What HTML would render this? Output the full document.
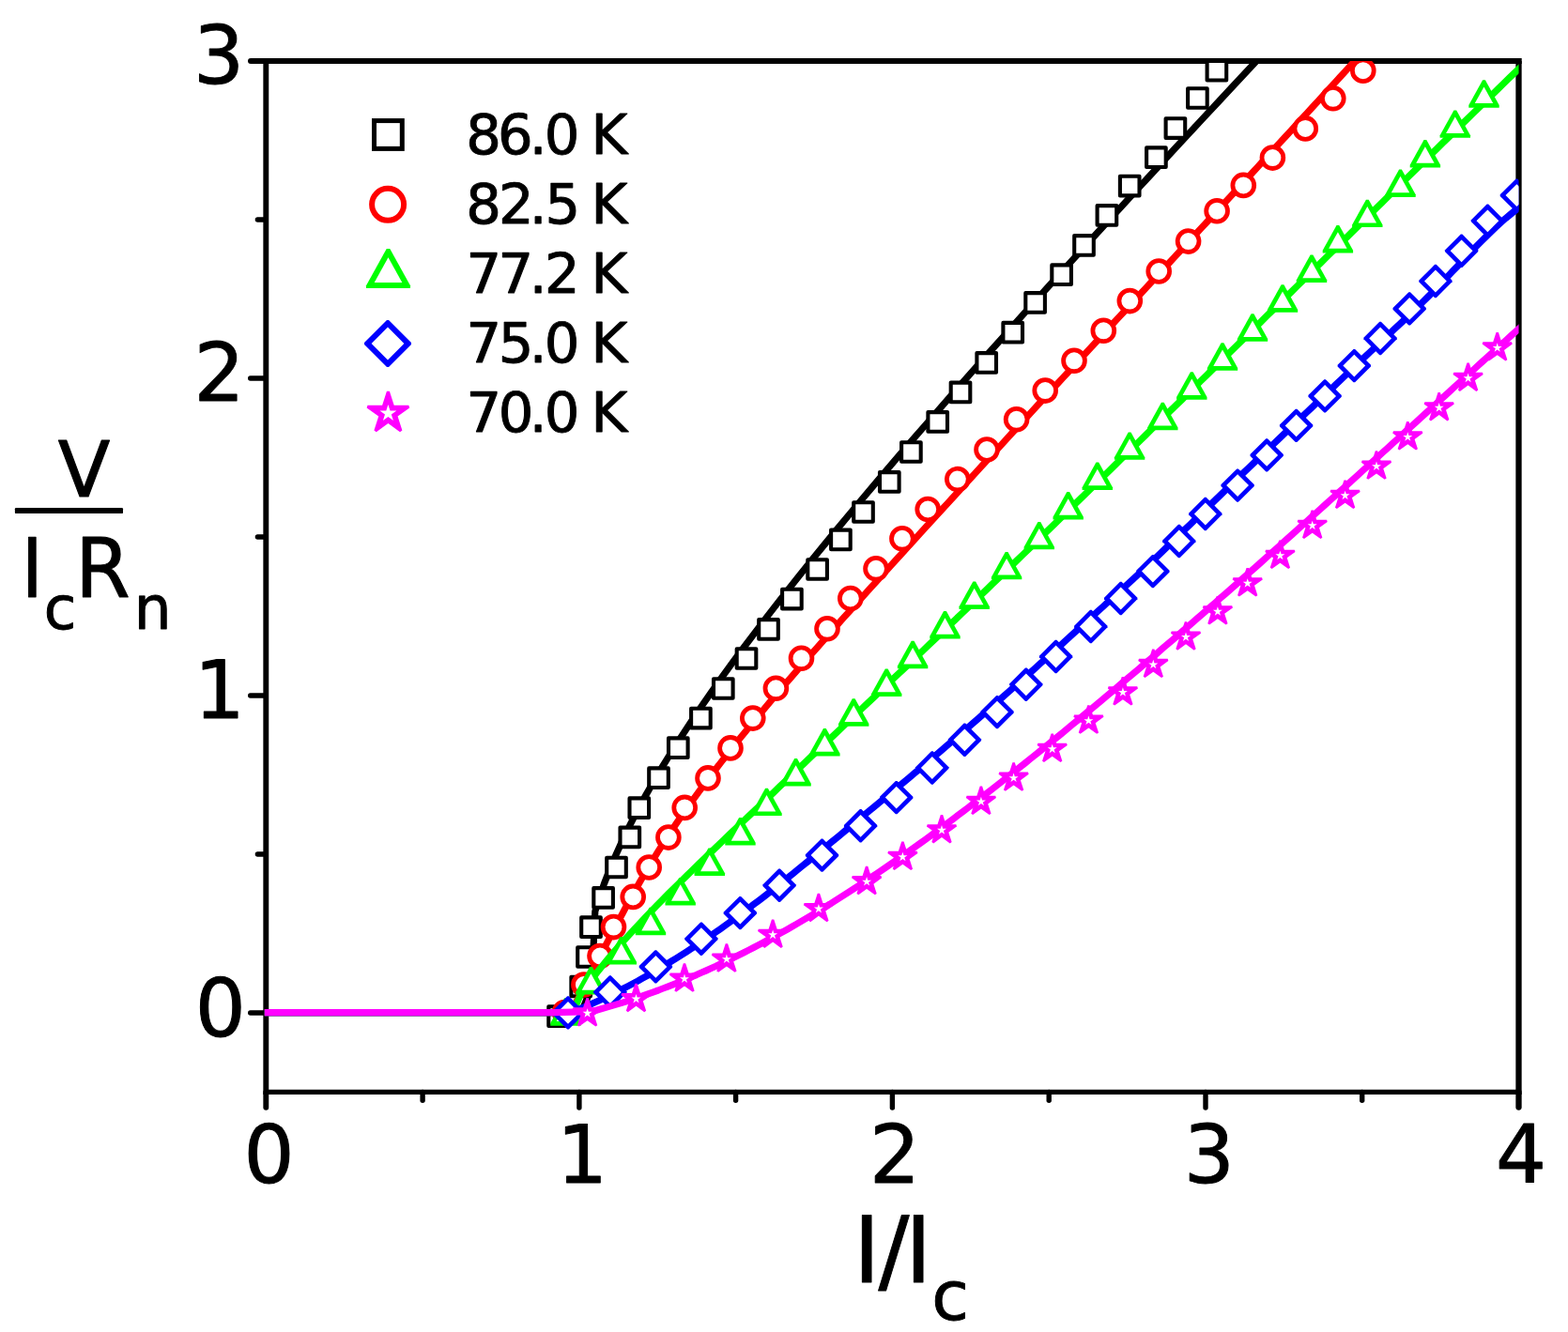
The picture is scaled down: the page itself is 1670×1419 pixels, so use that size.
<!DOCTYPE html>
<html lang="en"><head><meta charset="utf-8"><title>V/IcRn vs I/Ic</title>
<style>html,body{margin:0;padding:0;background:#fff}body{width:1670px;height:1419px;overflow:hidden}svg{display:block}text{font-family:'DejaVu Sans Condensed','DejaVu Sans','Liberation Sans',sans-serif;fill:#000}</style></head><body>
<svg width="1670" height="1419" viewBox="0 0 1670 1419">
<rect width="1670" height="1419" fill="#fff"/>
<g stroke="#000" fill="none" stroke-linecap="round">
<line x1="280.3" y1="65" x2="1620.7" y2="65" stroke-width="6.0" stroke-linecap="butt"/>
<line x1="283.3" y1="65" x2="283.3" y2="1166" stroke-width="5.9" stroke-linecap="butt"/>
<line x1="1617.5" y1="65" x2="1617.5" y2="1166" stroke-width="6.3" stroke-linecap="butt"/>
<line x1="283.3" y1="1163.4" x2="1617.5" y2="1163.4" stroke-width="5.1" stroke-linecap="butt"/>
<line x1="283.3" y1="1163.4" x2="283.3" y2="1179.8" stroke-width="5.9"/>
<line x1="450.1" y1="1163.4" x2="450.1" y2="1172.3" stroke-width="5.4"/>
<line x1="616.9" y1="1163.4" x2="616.9" y2="1180" stroke-width="5.4"/>
<line x1="783.6" y1="1163.4" x2="783.6" y2="1172.3" stroke-width="5.4"/>
<line x1="950.4" y1="1163.4" x2="950.4" y2="1180" stroke-width="5.4"/>
<line x1="1117.2" y1="1163.4" x2="1117.2" y2="1172.3" stroke-width="5.4"/>
<line x1="1284" y1="1163.4" x2="1284" y2="1180" stroke-width="5.4"/>
<line x1="1450.7" y1="1163.4" x2="1450.7" y2="1172.3" stroke-width="5.4"/>
<line x1="1617.5" y1="1163.4" x2="1617.5" y2="1179.5" stroke-width="6.3"/>
<line x1="283.3" y1="1079" x2="266.7" y2="1079" stroke-width="5.4"/>
<line x1="283.3" y1="910" x2="274.4" y2="910" stroke-width="5.4"/>
<line x1="283.3" y1="741" x2="266.7" y2="741" stroke-width="5.4"/>
<line x1="283.3" y1="572" x2="274.4" y2="572" stroke-width="5.4"/>
<line x1="283.3" y1="403" x2="266.7" y2="403" stroke-width="5.4"/>
<line x1="283.3" y1="234" x2="274.4" y2="234" stroke-width="5.4"/>
<line x1="283.3" y1="65" x2="267" y2="65" stroke-width="6.0"/>
</g>
<defs><clipPath id="cp"><rect x="281.8" y="65" width="1335.7" height="1098.4"/></clipPath></defs>
<g clip-path="url(#cp)">
<path d="M1369.9 31.2L1355.2 46.9L1340.5 62.6L1325.8 78.3L1311.1 94L1296.5 109.7L1281.9 125.4L1267.3 141.1L1252.7 156.8L1238.2 172.5L1223.7 188.2L1209.2 203.9L1194.8 219.6L1180.4 235.3L1166 251L1151.7 266.7L1137.4 282.4L1123.2 298L1109 313.7L1094.8 329.4L1080.7 345.1L1066.7 360.8L1052.7 376.5L1038.8 392.2L1024.9 407.9L1011.1 423.6L997.4 439.3L983.7 455L970.1 470.7L956.6 486.4L943.2 502.1L929.9 517.8L916.7 533.5L903.6 549.2L890.6 564.9L877.7 580.6L864.9 596.3L852.3 612L839.8 627.7L827.5 643.4L815.3 659.1L803.4 674.8L791.6 690.5L780 706.2L768.6 721.9L757.5 737.6L746.6 753.3L736 769L725.7 784.7L715.6 800.4L706 816L696.6 831.7L687.7 847.4L679.1 863.1L671 878.8L663.3 894.5L656.2 910.2L649.5 925.9L643.4 941.6L637.9 957.3L633.8 971L632.3 1003.7L630.5 1035L626 1062L619 1078.7L278.3 1078.7" fill="none" stroke="#000000" stroke-width="7.2" stroke-linejoin="round"/>
<rect x="584.3" y="1072.3" width="20.6" height="20.6" fill="#fff" stroke="#000000" stroke-width="4.1" stroke-linejoin="round"/>
<rect x="608.4" y="1040.7" width="20.6" height="20.6" fill="#fff" stroke="#000000" stroke-width="4.1" stroke-linejoin="round"/>
<rect x="615.2" y="1009.2" width="20.6" height="20.6" fill="#fff" stroke="#000000" stroke-width="4.1" stroke-linejoin="round"/>
<rect x="619.2" y="977.4" width="20.6" height="20.6" fill="#fff" stroke="#000000" stroke-width="4.1" stroke-linejoin="round"/>
<rect x="632.3" y="946.1" width="20.6" height="20.6" fill="#fff" stroke="#000000" stroke-width="4.1" stroke-linejoin="round"/>
<rect x="646.2" y="913.7" width="20.6" height="20.6" fill="#fff" stroke="#000000" stroke-width="4.1" stroke-linejoin="round"/>
<rect x="660.5" y="881.6" width="20.6" height="20.6" fill="#fff" stroke="#000000" stroke-width="4.1" stroke-linejoin="round"/>
<rect x="670.5" y="850.4" width="20.6" height="20.6" fill="#fff" stroke="#000000" stroke-width="4.1" stroke-linejoin="round"/>
<rect x="691.2" y="818.4" width="20.6" height="20.6" fill="#fff" stroke="#000000" stroke-width="4.1" stroke-linejoin="round"/>
<rect x="712" y="786.4" width="20.6" height="20.6" fill="#fff" stroke="#000000" stroke-width="4.1" stroke-linejoin="round"/>
<rect x="736.1" y="754.8" width="20.6" height="20.6" fill="#fff" stroke="#000000" stroke-width="4.1" stroke-linejoin="round"/>
<rect x="760" y="723.2" width="20.6" height="20.6" fill="#fff" stroke="#000000" stroke-width="4.1" stroke-linejoin="round"/>
<rect x="784.7" y="691.2" width="20.6" height="20.6" fill="#fff" stroke="#000000" stroke-width="4.1" stroke-linejoin="round"/>
<rect x="808.2" y="660.1" width="20.6" height="20.6" fill="#fff" stroke="#000000" stroke-width="4.1" stroke-linejoin="round"/>
<rect x="833.1" y="627.8" width="20.6" height="20.6" fill="#fff" stroke="#000000" stroke-width="4.1" stroke-linejoin="round"/>
<rect x="860.3" y="596.2" width="20.6" height="20.6" fill="#fff" stroke="#000000" stroke-width="4.1" stroke-linejoin="round"/>
<rect x="885.1" y="564.6" width="20.6" height="20.6" fill="#fff" stroke="#000000" stroke-width="4.1" stroke-linejoin="round"/>
<rect x="909.2" y="535.2" width="20.6" height="20.6" fill="#fff" stroke="#000000" stroke-width="4.1" stroke-linejoin="round"/>
<rect x="937" y="503.1" width="20.6" height="20.6" fill="#fff" stroke="#000000" stroke-width="4.1" stroke-linejoin="round"/>
<rect x="960.1" y="471.2" width="20.6" height="20.6" fill="#fff" stroke="#000000" stroke-width="4.1" stroke-linejoin="round"/>
<rect x="988.4" y="439.1" width="20.6" height="20.6" fill="#fff" stroke="#000000" stroke-width="4.1" stroke-linejoin="round"/>
<rect x="1012.7" y="407.6" width="20.6" height="20.6" fill="#fff" stroke="#000000" stroke-width="4.1" stroke-linejoin="round"/>
<rect x="1040.4" y="376.1" width="20.6" height="20.6" fill="#fff" stroke="#000000" stroke-width="4.1" stroke-linejoin="round"/>
<rect x="1068.4" y="343.9" width="20.6" height="20.6" fill="#fff" stroke="#000000" stroke-width="4.1" stroke-linejoin="round"/>
<rect x="1092.3" y="312.1" width="20.6" height="20.6" fill="#fff" stroke="#000000" stroke-width="4.1" stroke-linejoin="round"/>
<rect x="1120.3" y="282.4" width="20.6" height="20.6" fill="#fff" stroke="#000000" stroke-width="4.1" stroke-linejoin="round"/>
<rect x="1144.2" y="251.1" width="20.6" height="20.6" fill="#fff" stroke="#000000" stroke-width="4.1" stroke-linejoin="round"/>
<rect x="1168.6" y="219.1" width="20.6" height="20.6" fill="#fff" stroke="#000000" stroke-width="4.1" stroke-linejoin="round"/>
<rect x="1192.9" y="187.8" width="20.6" height="20.6" fill="#fff" stroke="#000000" stroke-width="4.1" stroke-linejoin="round"/>
<rect x="1221.1" y="157.4" width="20.6" height="20.6" fill="#fff" stroke="#000000" stroke-width="4.1" stroke-linejoin="round"/>
<rect x="1241.6" y="126.3" width="20.6" height="20.6" fill="#fff" stroke="#000000" stroke-width="4.1" stroke-linejoin="round"/>
<rect x="1265.1" y="94.2" width="20.6" height="20.6" fill="#fff" stroke="#000000" stroke-width="4.1" stroke-linejoin="round"/>
<rect x="1285.6" y="64.9" width="20.6" height="20.6" fill="#fff" stroke="#000000" stroke-width="4.1" stroke-linejoin="round"/>
<path d="M1456.5 50L1450.7 56.4L1444.8 62.8L1439 69.2L1433.2 75.6L1427.3 82L1421.5 88.4L1415.6 94.8L1409.8 101.2L1403.9 107.6L1398 114L1392.2 120.4L1386.3 126.8L1380.4 133.2L1374.6 139.6L1368.7 146L1362.8 152.4L1356.9 158.8L1351 165.2L1345.1 171.6L1339.3 178.1L1333.4 184.5L1327.5 190.9L1321.6 197.3L1315.7 203.7L1309.8 210.1L1303.9 216.5L1298 222.9L1292.1 229.3L1286.2 235.7L1280.2 242.1L1274.3 248.5L1268.4 254.9L1262.5 261.3L1256.6 267.7L1250.7 274.1L1244.8 280.5L1238.9 286.9L1232.9 293.3L1227 299.7L1221.1 306.1L1215.2 312.5L1209.3 318.9L1203.4 325.3L1197.5 331.7L1191.5 338.1L1185.6 344.5L1179.7 350.9L1173.8 357.3L1167.9 363.7L1162 370.1L1156.1 376.5L1150.2 382.9L1144.2 389.3L1138.3 395.7L1132.4 402.1L1126.5 408.5L1120.6 414.9L1114.7 421.3L1108.8 427.7L1102.9 434.2L1097 440.6L1091.1 447L1085.2 453.4L1079.3 459.8L1073.5 466.2L1067.6 472.6L1061.7 479L1055.8 485.4L1049.9 491.8L1044.1 498.2L1038.2 504.6L1032.3 511L1026.4 517.4L1020.6 523.8L1014.7 530.2L1008.9 536.6L1003 543L997.2 549.4L991.3 555.8L985.5 562.2L979.6 568.6L973.8 575L968 581.4L962.2 587.8L956.3 594.2L950.5 600.6L944.7 607L938.9 613.4L933.1 619.8L927.3 626.2L921.5 632.6L915.7 639L910 645.4L904.2 651.8L898.4 658.2L892.7 664.6L887 671L881.3 677.4L875.6 683.8L869.9 690.3L864.3 696.7L858.6 703.1L853 709.5L847.5 715.9L841.9 722.3L836.4 728.7L830.9 735.1L825.5 741.5L820 747.9L814.7 754.3L809.3 760.7L804 767.1L798.7 773.5L793.5 779.9L788.3 786.3L783.2 792.7L778.1 799.1L773.1 805.5L768.1 811.9L763.2 818.3L758.3 824.7L753.4 831.1L748.7 837.5L744 843.9L739.3 850.3L734.7 856.7L730.2 863.1L725.7 869.5L721.3 875.9L717 882.3L712.8 888.7L708.6 895.1L704.5 901.5L700.4 907.9L696.5 914.3L692.6 920.7L688.7 927.1L685 933.5L681.3 939.9L677.7 946.4L674.1 952.8L670.5 959.2L667 965.6L663.6 972L660.2 978.4L656.8 984.8L653.4 991.2L650.1 997.6L646.7 1004L643.4 1010.4L640.1 1016.8L636.8 1023.2L633.5 1029.6L630.2 1036L626.9 1042.4L623.6 1048.8L620.3 1055.2L616.9 1061.6L613.5 1068L604 1078.7L278.3 1078.7" fill="none" stroke="#ff0000" stroke-width="7.2" stroke-linejoin="round"/>
<circle cx="601.5" cy="1078.6" r="11.4" fill="#fff" stroke="#ff0000" stroke-width="4.8"/>
<circle cx="621.9" cy="1049" r="11.4" fill="#fff" stroke="#ff0000" stroke-width="4.8"/>
<circle cx="639" cy="1018.5" r="11.4" fill="#fff" stroke="#ff0000" stroke-width="4.8"/>
<circle cx="653.5" cy="987.6" r="11.4" fill="#fff" stroke="#ff0000" stroke-width="4.8"/>
<circle cx="674.2" cy="955.4" r="11.4" fill="#fff" stroke="#ff0000" stroke-width="4.8"/>
<circle cx="691.2" cy="924" r="11.4" fill="#fff" stroke="#ff0000" stroke-width="4.8"/>
<circle cx="711.9" cy="892.1" r="11.4" fill="#fff" stroke="#ff0000" stroke-width="4.8"/>
<circle cx="729.2" cy="860.4" r="11.4" fill="#fff" stroke="#ff0000" stroke-width="4.8"/>
<circle cx="754" cy="828.9" r="11.4" fill="#fff" stroke="#ff0000" stroke-width="4.8"/>
<circle cx="778" cy="796.9" r="11.4" fill="#fff" stroke="#ff0000" stroke-width="4.8"/>
<circle cx="801.8" cy="765.1" r="11.4" fill="#fff" stroke="#ff0000" stroke-width="4.8"/>
<circle cx="826.4" cy="733.3" r="11.4" fill="#fff" stroke="#ff0000" stroke-width="4.8"/>
<circle cx="853.5" cy="701.3" r="11.4" fill="#fff" stroke="#ff0000" stroke-width="4.8"/>
<circle cx="881" cy="669.8" r="11.4" fill="#fff" stroke="#ff0000" stroke-width="4.8"/>
<circle cx="905.8" cy="637.5" r="11.4" fill="#fff" stroke="#ff0000" stroke-width="4.8"/>
<circle cx="933" cy="605.8" r="11.4" fill="#fff" stroke="#ff0000" stroke-width="4.8"/>
<circle cx="960.9" cy="573.8" r="11.4" fill="#fff" stroke="#ff0000" stroke-width="4.8"/>
<circle cx="988.2" cy="542.5" r="11.4" fill="#fff" stroke="#ff0000" stroke-width="4.8"/>
<circle cx="1019.8" cy="510.6" r="11.4" fill="#fff" stroke="#ff0000" stroke-width="4.8"/>
<circle cx="1051" cy="479" r="11.4" fill="#fff" stroke="#ff0000" stroke-width="4.8"/>
<circle cx="1082.6" cy="446.8" r="11.4" fill="#fff" stroke="#ff0000" stroke-width="4.8"/>
<circle cx="1113.2" cy="416.1" r="11.4" fill="#fff" stroke="#ff0000" stroke-width="4.8"/>
<circle cx="1144" cy="384.3" r="11.4" fill="#fff" stroke="#ff0000" stroke-width="4.8"/>
<circle cx="1175.3" cy="352.3" r="11.4" fill="#fff" stroke="#ff0000" stroke-width="4.8"/>
<circle cx="1203.3" cy="320.6" r="11.4" fill="#fff" stroke="#ff0000" stroke-width="4.8"/>
<circle cx="1234.2" cy="289" r="11.4" fill="#fff" stroke="#ff0000" stroke-width="4.8"/>
<circle cx="1265.6" cy="257.1" r="11.4" fill="#fff" stroke="#ff0000" stroke-width="4.8"/>
<circle cx="1296.1" cy="224.7" r="11.4" fill="#fff" stroke="#ff0000" stroke-width="4.8"/>
<circle cx="1324.3" cy="197.4" r="11.4" fill="#fff" stroke="#ff0000" stroke-width="4.8"/>
<circle cx="1355.4" cy="168.1" r="11.4" fill="#fff" stroke="#ff0000" stroke-width="4.8"/>
<circle cx="1390.3" cy="136.9" r="11.4" fill="#fff" stroke="#ff0000" stroke-width="4.8"/>
<circle cx="1419.8" cy="104.8" r="11.4" fill="#fff" stroke="#ff0000" stroke-width="4.8"/>
<circle cx="1451.8" cy="75.2" r="11.4" fill="#fff" stroke="#ff0000" stroke-width="4.8"/>
<path d="M1640.3 51.2L1633.8 57.6L1627.2 63.9L1620.7 70.3L1614.2 76.6L1607.6 82.9L1601.1 89.3L1594.6 95.6L1588.1 102L1581.6 108.3L1575.1 114.7L1568.6 121L1562.1 127.4L1555.6 133.7L1549.1 140.1L1542.7 146.4L1536.2 152.7L1529.7 159.1L1523.2 165.4L1516.8 171.8L1510.3 178.1L1503.8 184.5L1497.4 190.8L1490.9 197.2L1484.4 203.5L1478 209.8L1471.5 216.2L1465.1 222.5L1458.6 228.9L1452.2 235.2L1445.7 241.6L1439.3 247.9L1432.9 254.3L1426.4 260.6L1420 266.9L1413.5 273.3L1407.1 279.6L1400.6 286L1394.2 292.3L1387.8 298.7L1381.3 305L1374.9 311.4L1368.4 317.7L1362 324L1355.6 330.4L1349.1 336.7L1342.7 343.1L1336.3 349.4L1329.8 355.8L1323.4 362.1L1316.9 368.5L1310.5 374.8L1304 381.1L1297.6 387.5L1291.1 393.8L1284.7 400.2L1278.2 406.5L1271.8 412.9L1265.3 419.2L1258.9 425.6L1252.4 431.9L1245.9 438.2L1239.5 444.6L1233 450.9L1226.5 457.3L1220.1 463.6L1213.6 470L1207.1 476.3L1200.6 482.7L1194.1 489L1187.6 495.3L1181.2 501.7L1174.7 508L1168.2 514.4L1161.7 520.7L1155.1 527.1L1148.6 533.4L1142.1 539.8L1135.6 546.1L1129.1 552.4L1122.5 558.8L1116 565.1L1109.4 571.5L1102.9 577.8L1096.4 584.2L1089.8 590.5L1083.2 596.9L1076.7 603.2L1070.1 609.5L1063.5 615.9L1056.9 622.2L1050.3 628.6L1043.7 634.9L1037.1 641.3L1030.5 647.6L1023.9 654L1017.3 660.3L1010.6 666.6L1004 673L997.4 679.3L990.7 685.7L984.1 692L977.4 698.4L970.7 704.7L964.1 711.1L957.4 717.4L950.7 723.7L944 730.1L937.4 736.4L930.7 742.8L924 749.1L917.3 755.5L910.6 761.8L903.9 768.2L897.3 774.5L890.6 780.8L883.9 787.2L877.2 793.5L870.5 799.9L863.8 806.2L857.1 812.6L850.5 818.9L843.8 825.3L837.1 831.6L830.4 837.9L823.8 844.3L817.1 850.6L810.5 857L803.8 863.3L797.2 869.7L790.5 876L783.9 882.4L777.2 888.7L770.6 895L764 901.4L757.4 907.7L750.8 914.1L744.2 920.4L737.7 926.8L731.2 933.1L724.7 939.5L718.3 945.8L711.9 952.1L705.6 958.5L699.4 964.8L693.2 971.2L687.2 977.5L681.2 983.9L675.3 990.2L669.4 996.6L663.7 1002.9L658.1 1009.2L652.6 1015.6L647.3 1021.9L642.1 1028.3L637 1034.6L632 1041L627.2 1047.3L622.5 1053.7L618.1 1060L610 1078.7L278.3 1078.7" fill="none" stroke="#00ff00" stroke-width="7.2" stroke-linejoin="round"/>
<path d="M601.02 1063.3L603.78 1063.3L618.6 1090.03L618.6 1092.7L586.2 1092.7L586.2 1090.03Z" fill="#00ff00"/><path d="M602.4 1070.5L612.1 1088L592.7 1088Z" fill="#fff"/>
<path d="M628.02 1030.1L630.78 1030.1L645.6 1056.83L645.6 1059.5L613.2 1059.5L613.2 1056.83Z" fill="#00ff00"/><path d="M629.4 1037.3L639.1 1054.8L619.7 1054.8Z" fill="#fff"/>
<path d="M660.42 998.1L663.18 998.1L678 1024.83L678 1027.5L645.6 1027.5L645.6 1024.83Z" fill="#00ff00"/><path d="M661.8 1005.3L671.5 1022.8L652.1 1022.8Z" fill="#fff"/>
<path d="M691.62 966.8L694.38 966.8L709.2 993.53L709.2 996.2L676.8 996.2L676.8 993.53Z" fill="#00ff00"/><path d="M693 974L702.7 991.5L683.3 991.5Z" fill="#fff"/>
<path d="M723.32 935L726.08 935L740.9 961.73L740.9 964.4L708.5 964.4L708.5 961.73Z" fill="#00ff00"/><path d="M724.7 942.2L734.4 959.7L715 959.7Z" fill="#fff"/>
<path d="M754.42 903.5L757.18 903.5L772 930.23L772 932.9L739.6 932.9L739.6 930.23Z" fill="#00ff00"/><path d="M755.8 910.7L765.5 928.2L746.1 928.2Z" fill="#fff"/>
<path d="M787.12 871.1L789.88 871.1L804.7 897.83L804.7 900.5L772.3 900.5L772.3 897.83Z" fill="#00ff00"/><path d="M788.5 878.3L798.2 895.8L778.8 895.8Z" fill="#fff"/>
<path d="M815.12 839.7L817.88 839.7L832.7 866.43L832.7 869.1L800.3 869.1L800.3 866.43Z" fill="#00ff00"/><path d="M816.5 846.9L826.2 864.4L806.8 864.4Z" fill="#fff"/>
<path d="M846.22 808.1L848.98 808.1L863.8 834.83L863.8 837.5L831.4 837.5L831.4 834.83Z" fill="#00ff00"/><path d="M847.6 815.3L857.3 832.8L837.9 832.8Z" fill="#fff"/>
<path d="M877.02 776.1L879.78 776.1L894.6 802.83L894.6 805.5L862.2 805.5L862.2 802.83Z" fill="#00ff00"/><path d="M878.4 783.3L888.1 800.8L868.7 800.8Z" fill="#fff"/>
<path d="M907.82 744.3L910.58 744.3L925.4 771.03L925.4 773.7L893 773.7L893 771.03Z" fill="#00ff00"/><path d="M909.2 751.5L918.9 769L899.5 769Z" fill="#fff"/>
<path d="M942.82 712.5L945.58 712.5L960.4 739.23L960.4 741.9L928 741.9L928 739.23Z" fill="#00ff00"/><path d="M944.2 719.7L953.9 737.2L934.5 737.2Z" fill="#fff"/>
<path d="M970.72 682.8L973.48 682.8L988.3 709.53L988.3 712.2L955.9 712.2L955.9 709.53Z" fill="#00ff00"/><path d="M972.1 690L981.8 707.5L962.4 707.5Z" fill="#fff"/>
<path d="M1005.12 651.1L1007.88 651.1L1022.7 677.83L1022.7 680.5L990.3 680.5L990.3 677.83Z" fill="#00ff00"/><path d="M1006.5 658.3L1016.2 675.8L996.8 675.8Z" fill="#fff"/>
<path d="M1036.32 619.5L1039.08 619.5L1053.9 646.23L1053.9 648.9L1021.5 648.9L1021.5 646.23Z" fill="#00ff00"/><path d="M1037.7 626.7L1047.4 644.2L1028 644.2Z" fill="#fff"/>
<path d="M1070.72 587.9L1073.48 587.9L1088.3 614.63L1088.3 617.3L1055.9 617.3L1055.9 614.63Z" fill="#00ff00"/><path d="M1072.1 595.1L1081.8 612.6L1062.4 612.6Z" fill="#fff"/>
<path d="M1105.42 555.9L1108.18 555.9L1123 582.63L1123 585.3L1090.6 585.3L1090.6 582.63Z" fill="#00ff00"/><path d="M1106.8 563.1L1116.5 580.6L1097.1 580.6Z" fill="#fff"/>
<path d="M1136.32 524.1L1139.08 524.1L1153.9 550.83L1153.9 553.5L1121.5 553.5L1121.5 550.83Z" fill="#00ff00"/><path d="M1137.7 531.3L1147.4 548.8L1128 548.8Z" fill="#fff"/>
<path d="M1167.42 492.5L1170.18 492.5L1185 519.23L1185 521.9L1152.6 521.9L1152.6 519.23Z" fill="#00ff00"/><path d="M1168.8 499.7L1178.5 517.2L1159.1 517.2Z" fill="#fff"/>
<path d="M1201.72 460.4L1204.48 460.4L1219.3 487.13L1219.3 489.8L1186.9 489.8L1186.9 487.13Z" fill="#00ff00"/><path d="M1203.1 467.6L1212.8 485.1L1193.4 485.1Z" fill="#fff"/>
<path d="M1236.92 428.8L1239.68 428.8L1254.5 455.53L1254.5 458.2L1222.1 458.2L1222.1 455.53Z" fill="#00ff00"/><path d="M1238.3 436L1248 453.5L1228.6 453.5Z" fill="#fff"/>
<path d="M1267.92 396.3L1270.68 396.3L1285.5 423.03L1285.5 425.7L1253.1 425.7L1253.1 423.03Z" fill="#00ff00"/><path d="M1269.3 403.5L1279 421L1259.6 421Z" fill="#fff"/>
<path d="M1300.62 365.3L1303.38 365.3L1318.2 392.03L1318.2 394.7L1285.8 394.7L1285.8 392.03Z" fill="#00ff00"/><path d="M1302 372.5L1311.7 390L1292.3 390Z" fill="#fff"/>
<path d="M1332.62 334.3L1335.38 334.3L1350.2 361.03L1350.2 363.7L1317.8 363.7L1317.8 361.03Z" fill="#00ff00"/><path d="M1334 341.5L1343.7 359L1324.3 359Z" fill="#fff"/>
<path d="M1364.62 303.3L1367.38 303.3L1382.2 330.03L1382.2 332.7L1349.8 332.7L1349.8 330.03Z" fill="#00ff00"/><path d="M1366 310.5L1375.7 328L1356.3 328Z" fill="#fff"/>
<path d="M1395.62 271.5L1398.38 271.5L1413.2 298.23L1413.2 300.9L1380.8 300.9L1380.8 298.23Z" fill="#00ff00"/><path d="M1397 278.7L1406.7 296.2L1387.3 296.2Z" fill="#fff"/>
<path d="M1423.52 240L1426.28 240L1441.1 266.73L1441.1 269.4L1408.7 269.4L1408.7 266.73Z" fill="#00ff00"/><path d="M1424.9 247.2L1434.6 264.7L1415.2 264.7Z" fill="#fff"/>
<path d="M1454.92 212.7L1457.68 212.7L1472.5 239.43L1472.5 242.1L1440.1 242.1L1440.1 239.43Z" fill="#00ff00"/><path d="M1456.3 219.9L1466 237.4L1446.6 237.4Z" fill="#fff"/>
<path d="M1490.12 180.6L1492.88 180.6L1507.7 207.33L1507.7 210L1475.3 210L1475.3 207.33Z" fill="#00ff00"/><path d="M1491.5 187.8L1501.2 205.3L1481.8 205.3Z" fill="#fff"/>
<path d="M1516.52 149.1L1519.28 149.1L1534.1 175.83L1534.1 178.5L1501.7 178.5L1501.7 175.83Z" fill="#00ff00"/><path d="M1517.9 156.3L1527.6 173.8L1508.2 173.8Z" fill="#fff"/>
<path d="M1548.42 117.4L1551.18 117.4L1566 144.13L1566 146.8L1533.6 146.8L1533.6 144.13Z" fill="#00ff00"/><path d="M1549.8 124.6L1559.5 142.1L1540.1 142.1Z" fill="#fff"/>
<path d="M1579.12 85.3L1581.88 85.3L1596.7 112.03L1596.7 114.7L1564.3 114.7L1564.3 112.03Z" fill="#00ff00"/><path d="M1580.5 92.5L1590.2 110L1570.8 110Z" fill="#fff"/>
<path d="M1640 203.8L1634.8 207.9L1629.7 212L1624.5 216L1619.3 220L1614.2 223.9L1609 228.1L1603.8 232.4L1598.7 236.9L1593.5 241.7L1588.3 246.6L1583.2 251.6L1578 256.7L1572.8 262L1567.7 267.3L1562.5 272.8L1557.3 278.2L1552.2 283.7L1547 289.1L1541.8 294.6L1536.7 300L1531.5 305.4L1526.4 310.7L1521.2 315.9L1516 321L1510.9 326.1L1505.7 331.1L1500.5 336L1495.4 341L1490.2 345.8L1485 350.7L1479.9 355.6L1474.7 360.4L1469.5 365.3L1464.4 370.1L1459.2 375L1454 379.9L1448.9 384.8L1443.7 389.7L1438.5 394.6L1433.4 399.5L1428.2 404.5L1423 409.4L1417.9 414.3L1412.7 419.3L1407.5 424.2L1402.4 429.1L1397.2 434.1L1392 439L1386.9 443.9L1381.7 448.8L1376.5 453.8L1371.4 458.7L1366.2 463.6L1361 468.6L1355.9 473.5L1350.7 478.5L1345.5 483.4L1340.4 488.4L1335.2 493.3L1330.1 498.3L1324.9 503.2L1319.7 508.2L1314.6 513.2L1309.4 518.1L1304.2 523.1L1299.1 528.1L1293.9 533.1L1288.7 538.1L1283.6 543.1L1278.4 548.1L1273.2 553.1L1268.1 558.2L1262.9 563.2L1257.7 568.2L1252.6 573.3L1247.4 578.3L1242.2 583.4L1237.1 588.4L1231.9 593.4L1226.7 598.3L1221.6 603.2L1216.4 608L1211.2 612.8L1206.1 617.6L1200.9 622.3L1195.7 627.1L1190.6 631.8L1185.4 636.5L1180.2 641.2L1175.1 646L1169.9 650.7L1164.7 655.4L1159.6 660.1L1154.4 664.8L1149.2 669.5L1144.1 674.2L1138.9 678.9L1133.7 683.6L1128.6 688.3L1123.4 692.9L1118.3 697.6L1113.1 702.3L1107.9 706.9L1102.8 711.6L1097.6 716.2L1092.4 720.8L1087.3 725.4L1082.1 730L1076.9 734.6L1071.8 739.2L1066.6 743.8L1061.4 748.3L1056.3 752.9L1051.1 757.4L1045.9 762L1040.8 766.5L1035.6 771L1030.4 775.5L1025.3 780L1020.1 784.4L1014.9 788.9L1009.8 793.3L1004.6 797.8L999.4 802.2L994.3 806.6L989.1 811L983.9 815.4L978.8 819.7L973.6 824.1L968.4 828.4L963.3 832.7L958.1 837.1L952.9 841.3L947.8 845.6L942.6 849.9L937.4 854.2L932.3 858.5L927.1 862.8L921.9 867L916.8 871.3L911.6 875.6L906.5 879.9L901.3 884.1L896.1 888.4L891 892.7L885.8 896.9L880.6 901.2L875.5 905.4L870.3 909.7L865.1 913.9L860 918.1L854.8 922.3L849.6 926.5L844.5 930.7L839.3 934.8L834.1 939L829 943.1L823.8 947.2L818.6 951.3L813.5 955.3L808.3 959.3L803.1 963.2L798 967.2L792.8 971L787.6 974.9L782.5 978.6L777.3 982.4L772.1 986.1L767 989.8L761.8 993.4L756.6 997L751.5 1000.5L746.3 1004L741.1 1007.4L736 1010.8L730.8 1014.2L725.6 1017.5L720.5 1020.7L715.3 1023.9L710.2 1027.1L705 1030.2L699.8 1033.3L694.7 1036.3L689.5 1039.3L684.3 1042.2L679.2 1045.1L674 1047.9L668.8 1050.6L663.7 1053.3L658.5 1056L653.3 1058.6L648.2 1061.1L643 1063.6L637.8 1066L632.7 1068.3L627.5 1070.6L622.3 1072.9L617.2 1075L612 1077.2L598 1078.7L278.3 1078.7" fill="none" stroke="#0000ff" stroke-width="7.2" stroke-linejoin="round"/>
<path d="M604.2 1061.2L605.8 1061.2L622.7 1078.1L622.7 1079.7L605.8 1096.6L604.2 1096.6L587.3 1079.7L587.3 1078.1Z" fill="#0000ff"/><path d="M605 1067L616.9 1078.9L605 1090.8L593.1 1078.9Z" fill="#fff"/>
<path d="M649 1039.3L650.6 1039.3L667.5 1056.2L667.5 1057.8L650.6 1074.7L649 1074.7L632.1 1057.8L632.1 1056.2Z" fill="#0000ff"/><path d="M649.8 1045.1L661.7 1057L649.8 1068.9L637.9 1057Z" fill="#fff"/>
<path d="M697.6 1012.2L699.2 1012.2L716.1 1029.1L716.1 1030.7L699.2 1047.6L697.6 1047.6L680.7 1030.7L680.7 1029.1Z" fill="#0000ff"/><path d="M698.4 1018L710.3 1029.9L698.4 1041.8L686.5 1029.9Z" fill="#fff"/>
<path d="M746.1 982.5L747.7 982.5L764.6 999.4L764.6 1001L747.7 1017.9L746.1 1017.9L729.2 1001L729.2 999.4Z" fill="#0000ff"/><path d="M746.9 988.3L758.8 1000.2L746.9 1012.1L735 1000.2Z" fill="#fff"/>
<path d="M787.5 954.9L789.1 954.9L806 971.8L806 973.4L789.1 990.3L787.5 990.3L770.6 973.4L770.6 971.8Z" fill="#0000ff"/><path d="M788.3 960.7L800.2 972.6L788.3 984.5L776.4 972.6Z" fill="#fff"/>
<path d="M829.3 925.5L830.9 925.5L847.8 942.4L847.8 944L830.9 960.9L829.3 960.9L812.4 944L812.4 942.4Z" fill="#0000ff"/><path d="M830.1 931.3L842 943.2L830.1 955.1L818.2 943.2Z" fill="#fff"/>
<path d="M874.7 893.4L876.3 893.4L893.2 910.3L893.2 911.9L876.3 928.8L874.7 928.8L857.8 911.9L857.8 910.3Z" fill="#0000ff"/><path d="M875.5 899.2L887.4 911.1L875.5 923L863.6 911.1Z" fill="#fff"/>
<path d="M915.8 862.1L917.4 862.1L934.3 879L934.3 880.6L917.4 897.5L915.8 897.5L898.9 880.6L898.9 879Z" fill="#0000ff"/><path d="M916.6 867.9L928.5 879.8L916.6 891.7L904.7 879.8Z" fill="#fff"/>
<path d="M953.9 831.9L955.5 831.9L972.4 848.8L972.4 850.4L955.5 867.3L953.9 867.3L937 850.4L937 848.8Z" fill="#0000ff"/><path d="M954.7 837.7L966.6 849.6L954.7 861.5L942.8 849.6Z" fill="#fff"/>
<path d="M992 800.3L993.6 800.3L1010.5 817.2L1010.5 818.8L993.6 835.7L992 835.7L975.1 818.8L975.1 817.2Z" fill="#0000ff"/><path d="M992.8 806.1L1004.7 818L992.8 829.9L980.9 818Z" fill="#fff"/>
<path d="M1026.6 770.6L1028.2 770.6L1045.1 787.5L1045.1 789.1L1028.2 806L1026.6 806L1009.7 789.1L1009.7 787.5Z" fill="#0000ff"/><path d="M1027.4 776.4L1039.3 788.3L1027.4 800.2L1015.5 788.3Z" fill="#fff"/>
<path d="M1061.2 740.9L1062.8 740.9L1079.7 757.8L1079.7 759.4L1062.8 776.3L1061.2 776.3L1044.3 759.4L1044.3 757.8Z" fill="#0000ff"/><path d="M1062 746.7L1073.9 758.6L1062 770.5L1050.1 758.6Z" fill="#fff"/>
<path d="M1092 711.6L1093.6 711.6L1110.5 728.5L1110.5 730.1L1093.6 747L1092 747L1075.1 730.1L1075.1 728.5Z" fill="#0000ff"/><path d="M1092.8 717.4L1104.7 729.3L1092.8 741.2L1080.9 729.3Z" fill="#fff"/>
<path d="M1123.8 681.8L1125.4 681.8L1142.3 698.7L1142.3 700.3L1125.4 717.2L1123.8 717.2L1106.9 700.3L1106.9 698.7Z" fill="#0000ff"/><path d="M1124.6 687.6L1136.5 699.5L1124.6 711.4L1112.7 699.5Z" fill="#fff"/>
<path d="M1161 649.8L1162.6 649.8L1179.5 666.7L1179.5 668.3L1162.6 685.2L1161 685.2L1144.1 668.3L1144.1 666.7Z" fill="#0000ff"/><path d="M1161.8 655.6L1173.7 667.5L1161.8 679.4L1149.9 667.5Z" fill="#fff"/>
<path d="M1192.9 619.8L1194.5 619.8L1211.4 636.7L1211.4 638.3L1194.5 655.2L1192.9 655.2L1176 638.3L1176 636.7Z" fill="#0000ff"/><path d="M1193.7 625.6L1205.6 637.5L1193.7 649.4L1181.8 637.5Z" fill="#fff"/>
<path d="M1227.1 590.9L1228.7 590.9L1245.6 607.8L1245.6 609.4L1228.7 626.3L1227.1 626.3L1210.2 609.4L1210.2 607.8Z" fill="#0000ff"/><path d="M1227.9 596.7L1239.8 608.6L1227.9 620.5L1216 608.6Z" fill="#fff"/>
<path d="M1255 558.8L1256.6 558.8L1273.5 575.7L1273.5 577.3L1256.6 594.2L1255 594.2L1238.1 577.3L1238.1 575.7Z" fill="#0000ff"/><path d="M1255.8 564.6L1267.7 576.5L1255.8 588.4L1243.9 576.5Z" fill="#fff"/>
<path d="M1283 529.8L1284.6 529.8L1301.5 546.7L1301.5 548.3L1284.6 565.2L1283 565.2L1266.1 548.3L1266.1 546.7Z" fill="#0000ff"/><path d="M1283.8 535.6L1295.7 547.5L1283.8 559.4L1271.9 547.5Z" fill="#fff"/>
<path d="M1317.3 499.4L1318.9 499.4L1335.8 516.3L1335.8 517.9L1318.9 534.8L1317.3 534.8L1300.4 517.9L1300.4 516.3Z" fill="#0000ff"/><path d="M1318.1 505.2L1330 517.1L1318.1 529L1306.2 517.1Z" fill="#fff"/>
<path d="M1348.4 467.2L1350 467.2L1366.9 484.1L1366.9 485.7L1350 502.6L1348.4 502.6L1331.5 485.7L1331.5 484.1Z" fill="#0000ff"/><path d="M1349.2 473L1361.1 484.9L1349.2 496.8L1337.3 484.9Z" fill="#fff"/>
<path d="M1379.8 435.7L1381.4 435.7L1398.3 452.6L1398.3 454.2L1381.4 471.1L1379.8 471.1L1362.9 454.2L1362.9 452.6Z" fill="#0000ff"/><path d="M1380.6 441.5L1392.5 453.4L1380.6 465.3L1368.7 453.4Z" fill="#fff"/>
<path d="M1410.3 404.2L1411.9 404.2L1428.8 421.1L1428.8 422.7L1411.9 439.6L1410.3 439.6L1393.4 422.7L1393.4 421.1Z" fill="#0000ff"/><path d="M1411.1 410L1423 421.9L1411.1 433.8L1399.2 421.9Z" fill="#fff"/>
<path d="M1441.5 371.9L1443.1 371.9L1460 388.8L1460 390.4L1443.1 407.3L1441.5 407.3L1424.6 390.4L1424.6 388.8Z" fill="#0000ff"/><path d="M1442.3 377.7L1454.2 389.6L1442.3 401.5L1430.4 389.6Z" fill="#fff"/>
<path d="M1469.3 342.8L1470.9 342.8L1487.8 359.7L1487.8 361.3L1470.9 378.2L1469.3 378.2L1452.4 361.3L1452.4 359.7Z" fill="#0000ff"/><path d="M1470.1 348.6L1482 360.5L1470.1 372.4L1458.2 360.5Z" fill="#fff"/>
<path d="M1500.4 311.2L1502 311.2L1518.9 328.1L1518.9 329.7L1502 346.6L1500.4 346.6L1483.5 329.7L1483.5 328.1Z" fill="#0000ff"/><path d="M1501.2 317L1513.1 328.9L1501.2 340.8L1489.3 328.9Z" fill="#fff"/>
<path d="M1528.1 281.8L1529.7 281.8L1546.6 298.7L1546.6 300.3L1529.7 317.2L1528.1 317.2L1511.2 300.3L1511.2 298.7Z" fill="#0000ff"/><path d="M1528.9 287.6L1540.8 299.5L1528.9 311.4L1517 299.5Z" fill="#fff"/>
<path d="M1555.8 249.6L1557.4 249.6L1574.3 266.5L1574.3 268.1L1557.4 285L1555.8 285L1538.9 268.1L1538.9 266.5Z" fill="#0000ff"/><path d="M1556.6 255.4L1568.5 267.3L1556.6 279.2L1544.7 267.3Z" fill="#fff"/>
<path d="M1583.6 217.6L1585.2 217.6L1602.1 234.5L1602.1 236.1L1585.2 253L1583.6 253L1566.7 236.1L1566.7 234.5Z" fill="#0000ff"/><path d="M1584.4 223.4L1596.3 235.3L1584.4 247.2L1572.5 235.3Z" fill="#fff"/>
<path d="M1614.6 190.4L1616.2 190.4L1633.1 207.3L1633.1 208.9L1616.2 225.8L1614.6 225.8L1597.7 208.9L1597.7 207.3Z" fill="#0000ff"/><path d="M1615.4 196.2L1627.3 208.1L1615.4 220L1603.5 208.1Z" fill="#fff"/>
<path d="M1640 330.3L1634.9 334.8L1629.8 339.3L1624.8 343.8L1619.7 348.4L1614.6 352.9L1609.5 357.5L1604.5 362.1L1599.4 366.7L1594.3 371.2L1589.2 375.8L1584.2 380.4L1579.1 385L1574 389.7L1568.9 394.3L1563.9 398.9L1558.8 403.5L1553.7 408.1L1548.6 412.7L1543.6 417.4L1538.5 422L1533.4 426.6L1528.3 431.3L1523.3 435.9L1518.2 440.5L1513.1 445.1L1508 449.8L1503 454.4L1497.9 459L1492.8 463.7L1487.7 468.3L1482.7 472.9L1477.6 477.6L1472.5 482.2L1467.4 486.8L1462.4 491.4L1457.3 496.1L1452.2 500.7L1447.1 505.3L1442.1 509.9L1437 514.5L1431.9 519.1L1426.8 523.7L1421.8 528.3L1416.7 532.9L1411.6 537.5L1406.5 542.1L1401.5 546.6L1396.4 551.2L1391.3 555.8L1386.2 560.3L1381.2 564.9L1376.1 569.5L1371 574L1365.9 578.6L1360.9 583.1L1355.8 587.6L1350.7 592.2L1345.6 596.7L1340.6 601.2L1335.5 605.7L1330.4 610.2L1325.3 614.7L1320.3 619.2L1315.2 623.7L1310.1 628.2L1305 632.7L1299.9 637.1L1294.9 641.6L1289.8 646L1284.7 650.5L1279.6 654.9L1274.6 659.3L1269.5 663.8L1264.4 668.2L1259.3 672.6L1254.3 677L1249.2 681.4L1244.1 685.8L1239 690.1L1234 694.5L1228.9 698.9L1223.8 703.2L1218.7 707.6L1213.7 711.9L1208.6 716.2L1203.5 720.5L1198.4 724.8L1193.4 729.1L1188.3 733.4L1183.2 737.7L1178.1 742L1173.1 746.2L1168 750.5L1162.9 754.7L1157.8 758.9L1152.8 763.1L1147.7 767.4L1142.6 771.5L1137.5 775.7L1132.5 779.9L1127.4 784.1L1122.3 788.2L1117.2 792.3L1112.2 796.5L1107.1 800.6L1102 804.7L1096.9 808.8L1091.9 812.9L1086.8 816.9L1081.7 821L1076.6 825L1071.6 829L1066.5 833L1061.4 837L1056.3 841L1051.3 844.9L1046.2 848.9L1041.1 852.8L1036 856.7L1031 860.5L1025.9 864.4L1020.8 868.2L1015.7 872.1L1010.7 875.9L1005.6 879.7L1000.5 883.4L995.4 887.2L990.4 890.9L985.3 894.6L980.2 898.2L975.1 901.9L970.1 905.5L965 909.1L959.9 912.7L954.8 916.3L949.7 919.8L944.7 923.3L939.6 926.8L934.5 930.2L929.4 933.6L924.4 937L919.3 940.4L914.2 943.7L909.1 947.1L904.1 950.3L899 953.6L893.9 956.8L888.8 960L883.8 963.2L878.7 966.3L873.6 969.4L868.5 972.5L863.5 975.5L858.4 978.5L853.3 981.5L848.2 984.5L843.2 987.4L838.1 990.3L833 993.1L827.9 995.9L822.9 998.7L817.8 1001.5L812.7 1004.2L807.6 1006.9L802.6 1009.5L797.5 1012.1L792.4 1014.7L787.3 1017.3L782.3 1019.8L777.2 1022.2L772.1 1024.7L767 1027.1L762 1029.5L756.9 1031.8L751.8 1034.1L746.7 1036.3L741.7 1038.6L736.6 1040.7L731.5 1042.9L726.4 1045L721.4 1047.1L716.3 1049.1L711.2 1051.1L706.1 1053L701.1 1055L696 1056.8L690.9 1058.7L685.8 1060.5L680.8 1062.2L675.7 1063.9L670.6 1065.6L665.5 1067.3L660.5 1068.9L655.4 1070.4L650.3 1071.9L645.2 1073.4L640.2 1074.8L635.1 1076.2L630 1077.6L590 1078.7L278.3 1078.7" fill="none" stroke="#ff00ff" stroke-width="7.2" stroke-linejoin="round"/>
<path d="M624.42 1062.98L626.78 1062.98L630.12 1073.25L640.93 1073.25L641.66 1075.5L632.92 1081.85L636.26 1092.13L634.34 1093.52L625.6 1087.17L616.86 1093.52L614.94 1092.13L618.28 1081.85L609.54 1075.5L610.27 1073.25L621.08 1073.25Z" fill="#ff00ff"/><path d="M625.6 1074.22L626.78 1077.85L630.6 1077.85L627.51 1080.1L628.69 1083.73L625.6 1081.48L622.51 1083.73L623.69 1080.1L620.6 1077.85L624.42 1077.85Z" fill="#fff"/>
<path d="M676.32 1047.68L678.68 1047.68L682.02 1057.95L692.83 1057.95L693.56 1060.2L684.82 1066.55L688.16 1076.83L686.24 1078.22L677.5 1071.87L668.76 1078.22L666.84 1076.83L670.18 1066.55L661.44 1060.2L662.17 1057.95L672.98 1057.95Z" fill="#ff00ff"/><path d="M677.5 1058.92L678.68 1062.55L682.5 1062.55L679.41 1064.8L680.59 1068.43L677.5 1066.18L674.41 1068.43L675.59 1064.8L672.5 1062.55L676.32 1062.55Z" fill="#fff"/>
<path d="M727.82 1026.28L730.18 1026.28L733.52 1036.55L744.33 1036.55L745.06 1038.8L736.32 1045.15L739.66 1055.43L737.74 1056.82L729 1050.47L720.26 1056.82L718.34 1055.43L721.68 1045.15L712.94 1038.8L713.67 1036.55L724.48 1036.55Z" fill="#ff00ff"/><path d="M729 1037.52L730.18 1041.15L734 1041.15L730.91 1043.4L732.09 1047.03L729 1044.78L725.91 1047.03L727.09 1043.4L724 1041.15L727.82 1041.15Z" fill="#fff"/>
<path d="M772.72 1005.28L775.08 1005.28L778.42 1015.55L789.23 1015.55L789.96 1017.8L781.22 1024.15L784.56 1034.43L782.64 1035.82L773.9 1029.47L765.16 1035.82L763.24 1034.43L766.58 1024.15L757.84 1017.8L758.57 1015.55L769.38 1015.55Z" fill="#ff00ff"/><path d="M773.9 1016.52L775.08 1020.15L778.9 1020.15L775.81 1022.4L776.99 1026.03L773.9 1023.78L770.81 1026.03L771.99 1022.4L768.9 1020.15L772.72 1020.15Z" fill="#fff"/>
<path d="M821.92 979.38L824.28 979.38L827.62 989.65L838.43 989.65L839.16 991.9L830.42 998.25L833.76 1008.53L831.84 1009.92L823.1 1003.57L814.36 1009.92L812.44 1008.53L815.78 998.25L807.04 991.9L807.77 989.65L818.58 989.65Z" fill="#ff00ff"/><path d="M823.1 990.62L824.28 994.25L828.1 994.25L825.01 996.5L826.19 1000.13L823.1 997.88L820.01 1000.13L821.19 996.5L818.1 994.25L821.92 994.25Z" fill="#fff"/>
<path d="M870.72 951.68L873.08 951.68L876.42 961.95L887.23 961.95L887.96 964.2L879.22 970.55L882.56 980.83L880.64 982.22L871.9 975.87L863.16 982.22L861.24 980.83L864.58 970.55L855.84 964.2L856.57 961.95L867.38 961.95Z" fill="#ff00ff"/><path d="M871.9 962.92L873.08 966.55L876.9 966.55L873.81 968.8L874.99 972.43L871.9 970.18L868.81 972.43L869.99 968.8L866.9 966.55L870.72 966.55Z" fill="#fff"/>
<path d="M921.92 922.78L924.28 922.78L927.62 933.05L938.43 933.05L939.16 935.3L930.42 941.65L933.76 951.93L931.84 953.32L923.1 946.97L914.36 953.32L912.44 951.93L915.78 941.65L907.04 935.3L907.77 933.05L918.58 933.05Z" fill="#ff00ff"/><path d="M923.1 934.02L924.28 937.65L928.1 937.65L925.01 939.9L926.19 943.53L923.1 941.28L920.01 943.53L921.19 939.9L918.1 937.65L921.92 937.65Z" fill="#fff"/>
<path d="M960.22 896.48L962.58 896.48L965.92 906.75L976.73 906.75L977.46 909L968.72 915.35L972.06 925.63L970.14 927.02L961.4 920.67L952.66 927.02L950.74 925.63L954.08 915.35L945.34 909L946.07 906.75L956.88 906.75Z" fill="#ff00ff"/><path d="M961.4 907.72L962.58 911.35L966.4 911.35L963.31 913.6L964.49 917.23L961.4 914.98L958.31 917.23L959.49 913.6L956.4 911.35L960.22 911.35Z" fill="#fff"/>
<path d="M1001.82 867.88L1004.18 867.88L1007.52 878.15L1018.33 878.15L1019.06 880.4L1010.32 886.75L1013.66 897.03L1011.74 898.42L1003 892.07L994.26 898.42L992.34 897.03L995.68 886.75L986.94 880.4L987.67 878.15L998.48 878.15Z" fill="#ff00ff"/><path d="M1003 879.12L1004.18 882.75L1008 882.75L1004.91 885L1006.09 888.63L1003 886.38L999.91 888.63L1001.09 885L998 882.75L1001.82 882.75Z" fill="#fff"/>
<path d="M1043.72 837.58L1046.08 837.58L1049.42 847.85L1060.23 847.85L1060.96 850.1L1052.22 856.45L1055.56 866.73L1053.64 868.12L1044.9 861.77L1036.16 868.12L1034.24 866.73L1037.58 856.45L1028.84 850.1L1029.57 847.85L1040.38 847.85Z" fill="#ff00ff"/><path d="M1044.9 848.82L1046.08 852.45L1049.9 852.45L1046.81 854.7L1047.99 858.33L1044.9 856.08L1041.81 858.33L1042.99 854.7L1039.9 852.45L1043.72 852.45Z" fill="#fff"/>
<path d="M1078.42 812.28L1080.78 812.28L1084.12 822.55L1094.93 822.55L1095.66 824.8L1086.92 831.15L1090.26 841.43L1088.34 842.82L1079.6 836.47L1070.86 842.82L1068.94 841.43L1072.28 831.15L1063.54 824.8L1064.27 822.55L1075.08 822.55Z" fill="#ff00ff"/><path d="M1079.6 823.52L1080.78 827.15L1084.6 827.15L1081.51 829.4L1082.69 833.03L1079.6 830.78L1076.51 833.03L1077.69 829.4L1074.6 827.15L1078.42 827.15Z" fill="#fff"/>
<path d="M1119.52 781.48L1121.88 781.48L1125.22 791.75L1136.03 791.75L1136.76 794L1128.02 800.35L1131.36 810.63L1129.44 812.02L1120.7 805.67L1111.96 812.02L1110.04 810.63L1113.38 800.35L1104.64 794L1105.37 791.75L1116.18 791.75Z" fill="#ff00ff"/><path d="M1120.7 792.72L1121.88 796.35L1125.7 796.35L1122.61 798.6L1123.79 802.23L1120.7 799.98L1117.61 802.23L1118.79 798.6L1115.7 796.35L1119.52 796.35Z" fill="#fff"/>
<path d="M1158.22 751.28L1160.58 751.28L1163.92 761.55L1174.73 761.55L1175.46 763.8L1166.72 770.15L1170.06 780.43L1168.14 781.82L1159.4 775.47L1150.66 781.82L1148.74 780.43L1152.08 770.15L1143.34 763.8L1144.07 761.55L1154.88 761.55Z" fill="#ff00ff"/><path d="M1159.4 762.52L1160.58 766.15L1164.4 766.15L1161.31 768.4L1162.49 772.03L1159.4 769.78L1156.31 772.03L1157.49 768.4L1154.4 766.15L1158.22 766.15Z" fill="#fff"/>
<path d="M1194.72 721.08L1197.08 721.08L1200.42 731.35L1211.23 731.35L1211.96 733.6L1203.22 739.95L1206.56 750.23L1204.64 751.62L1195.9 745.27L1187.16 751.62L1185.24 750.23L1188.58 739.95L1179.84 733.6L1180.57 731.35L1191.38 731.35Z" fill="#ff00ff"/><path d="M1195.9 732.32L1197.08 735.95L1200.9 735.95L1197.81 738.2L1198.99 741.83L1195.9 739.58L1192.81 741.83L1193.99 738.2L1190.9 735.95L1194.72 735.95Z" fill="#fff"/>
<path d="M1227.12 691.58L1229.48 691.58L1232.82 701.85L1243.63 701.85L1244.36 704.1L1235.62 710.45L1238.96 720.73L1237.04 722.12L1228.3 715.77L1219.56 722.12L1217.64 720.73L1220.98 710.45L1212.24 704.1L1212.97 701.85L1223.78 701.85Z" fill="#ff00ff"/><path d="M1228.3 702.82L1229.48 706.45L1233.3 706.45L1230.21 708.7L1231.39 712.33L1228.3 710.08L1225.21 712.33L1226.39 708.7L1223.3 706.45L1227.12 706.45Z" fill="#fff"/>
<path d="M1261.82 662.18L1264.18 662.18L1267.52 672.45L1278.33 672.45L1279.06 674.7L1270.32 681.05L1273.66 691.33L1271.74 692.72L1263 686.37L1254.26 692.72L1252.34 691.33L1255.68 681.05L1246.94 674.7L1247.67 672.45L1258.48 672.45Z" fill="#ff00ff"/><path d="M1263 673.42L1264.18 677.05L1268 677.05L1264.91 679.3L1266.09 682.93L1263 680.68L1259.91 682.93L1261.09 679.3L1258 677.05L1261.82 677.05Z" fill="#fff"/>
<path d="M1295.72 634.98L1298.08 634.98L1301.42 645.25L1312.23 645.25L1312.96 647.5L1304.22 653.85L1307.56 664.13L1305.64 665.52L1296.9 659.17L1288.16 665.52L1286.24 664.13L1289.58 653.85L1280.84 647.5L1281.57 645.25L1292.38 645.25Z" fill="#ff00ff"/><path d="M1296.9 646.22L1298.08 649.85L1301.9 649.85L1298.81 652.1L1299.99 655.73L1296.9 653.48L1293.81 655.73L1294.99 652.1L1291.9 649.85L1295.72 649.85Z" fill="#fff"/>
<path d="M1327.52 604.98L1329.88 604.98L1333.22 615.25L1344.03 615.25L1344.76 617.5L1336.02 623.85L1339.36 634.13L1337.44 635.52L1328.7 629.17L1319.96 635.52L1318.04 634.13L1321.38 623.85L1312.64 617.5L1313.37 615.25L1324.18 615.25Z" fill="#ff00ff"/><path d="M1328.7 616.22L1329.88 619.85L1333.7 619.85L1330.61 622.1L1331.79 625.73L1328.7 623.48L1325.61 625.73L1326.79 622.1L1323.7 619.85L1327.52 619.85Z" fill="#fff"/>
<path d="M1362.22 575.48L1364.58 575.48L1367.92 585.75L1378.73 585.75L1379.46 588L1370.72 594.35L1374.06 604.63L1372.14 606.02L1363.4 599.67L1354.66 606.02L1352.74 604.63L1356.08 594.35L1347.34 588L1348.07 585.75L1358.88 585.75Z" fill="#ff00ff"/><path d="M1363.4 586.72L1364.58 590.35L1368.4 590.35L1365.31 592.6L1366.49 596.23L1363.4 593.98L1360.31 596.23L1361.49 592.6L1358.4 590.35L1362.22 590.35Z" fill="#fff"/>
<path d="M1396.52 543.48L1398.88 543.48L1402.22 553.75L1413.03 553.75L1413.76 556L1405.02 562.35L1408.36 572.63L1406.44 574.02L1397.7 567.67L1388.96 574.02L1387.04 572.63L1390.38 562.35L1381.64 556L1382.37 553.75L1393.18 553.75Z" fill="#ff00ff"/><path d="M1397.7 554.72L1398.88 558.35L1402.7 558.35L1399.61 560.6L1400.79 564.23L1397.7 561.98L1394.61 564.23L1395.79 560.6L1392.7 558.35L1396.52 558.35Z" fill="#fff"/>
<path d="M1431.42 511.48L1433.78 511.48L1437.12 521.75L1447.93 521.75L1448.66 524L1439.92 530.35L1443.26 540.63L1441.34 542.02L1432.6 535.67L1423.86 542.02L1421.94 540.63L1425.28 530.35L1416.54 524L1417.27 521.75L1428.08 521.75Z" fill="#ff00ff"/><path d="M1432.6 522.72L1433.78 526.35L1437.6 526.35L1434.51 528.6L1435.69 532.23L1432.6 529.98L1429.51 532.23L1430.69 528.6L1427.6 526.35L1431.42 526.35Z" fill="#fff"/>
<path d="M1464.82 480.28L1467.18 480.28L1470.52 490.55L1481.33 490.55L1482.06 492.8L1473.32 499.15L1476.66 509.43L1474.74 510.82L1466 504.47L1457.26 510.82L1455.34 509.43L1458.68 499.15L1449.94 492.8L1450.67 490.55L1461.48 490.55Z" fill="#ff00ff"/><path d="M1466 491.52L1467.18 495.15L1471 495.15L1467.91 497.4L1469.09 501.03L1466 498.78L1462.91 501.03L1464.09 497.4L1461 495.15L1464.82 495.15Z" fill="#fff"/>
<path d="M1498.12 449.08L1500.48 449.08L1503.82 459.35L1514.63 459.35L1515.36 461.6L1506.62 467.95L1509.96 478.23L1508.04 479.62L1499.3 473.27L1490.56 479.62L1488.64 478.23L1491.98 467.95L1483.24 461.6L1483.97 459.35L1494.78 459.35Z" fill="#ff00ff"/><path d="M1499.3 460.32L1500.48 463.95L1504.3 463.95L1501.21 466.2L1502.39 469.83L1499.3 467.58L1496.21 469.83L1497.39 466.2L1494.3 463.95L1498.12 463.95Z" fill="#fff"/>
<path d="M1531.52 417.88L1533.88 417.88L1537.22 428.15L1548.03 428.15L1548.76 430.4L1540.02 436.75L1543.36 447.03L1541.44 448.42L1532.7 442.07L1523.96 448.42L1522.04 447.03L1525.38 436.75L1516.64 430.4L1517.37 428.15L1528.18 428.15Z" fill="#ff00ff"/><path d="M1532.7 429.12L1533.88 432.75L1537.7 432.75L1534.61 435L1535.79 438.63L1532.7 436.38L1529.61 438.63L1530.79 435L1527.7 432.75L1531.52 432.75Z" fill="#fff"/>
<path d="M1562.42 386.38L1564.78 386.38L1568.12 396.65L1578.93 396.65L1579.66 398.9L1570.92 405.25L1574.26 415.53L1572.34 416.92L1563.6 410.57L1554.86 416.92L1552.94 415.53L1556.28 405.25L1547.54 398.9L1548.27 396.65L1559.08 396.65Z" fill="#ff00ff"/><path d="M1563.6 397.62L1564.78 401.25L1568.6 401.25L1565.51 403.5L1566.69 407.13L1563.6 404.88L1560.51 407.13L1561.69 403.5L1558.6 401.25L1562.42 401.25Z" fill="#fff"/>
<path d="M1593.52 354.08L1595.88 354.08L1599.22 364.35L1610.03 364.35L1610.76 366.6L1602.02 372.95L1605.36 383.23L1603.44 384.62L1594.7 378.27L1585.96 384.62L1584.04 383.23L1587.38 372.95L1578.64 366.6L1579.37 364.35L1590.18 364.35Z" fill="#ff00ff"/><path d="M1594.7 365.32L1595.88 368.95L1599.7 368.95L1596.61 371.2L1597.79 374.83L1594.7 372.58L1591.61 374.83L1592.79 371.2L1589.7 368.95L1593.52 368.95Z" fill="#fff"/>
</g>
<text transform="scale(1.1180 1)" x="443.86 474.07 504.23 518.55 552.19 563.09" y="164.4" font-size="58.8" stroke="#000" stroke-width="0.9" stroke-linejoin="round">86.0 K</text>
<text transform="scale(1.1180 1)" x="443.86 474.97 504.23 519.22 552.87 563.09" y="238.3" font-size="58.8" stroke="#000" stroke-width="0.9" stroke-linejoin="round">82.5 K</text>
<text transform="scale(1.1180 1)" x="444.01 474.51 504.23 518.89 552.54 563.09" y="312.4" font-size="58.8" stroke="#000" stroke-width="0.9" stroke-linejoin="round">77.2 K</text>
<text transform="scale(1.1180 1)" x="444.01 474.77 504.23 518.55 552.19 563.09" y="386.3" font-size="58.8" stroke="#000" stroke-width="0.9" stroke-linejoin="round">75.0 K</text>
<text transform="scale(1.1180 1)" x="444.01 474.63 504.23 518.55 552.19 563.09" y="460.2" font-size="58.8" stroke="#000" stroke-width="0.9" stroke-linejoin="round">70.0 K</text>
<text transform="scale(1.0950 1)" x="188.12" y="89.3" font-size="86.3" stroke="#000" stroke-width="0.9" stroke-linejoin="round">3</text>
<text transform="scale(1.0950 1)" x="188.6" y="426.6" font-size="86.3" stroke="#000" stroke-width="0.9" stroke-linejoin="round">2</text>
<text transform="scale(1.0950 1)" x="188.89" y="764.6" font-size="86.3" stroke="#000" stroke-width="0.9" stroke-linejoin="round">1</text>
<text transform="scale(1.0950 1)" x="189.7" y="1103.8" font-size="86.3" stroke="#000" stroke-width="0.9" stroke-linejoin="round">0</text>
<text transform="scale(1.0950 1)" x="237.1" y="1260.4" font-size="86.3" stroke="#000" stroke-width="0.9" stroke-linejoin="round">0</text>
<text transform="scale(1.0950 1)" x="541.49" y="1260" font-size="86.3" stroke="#000" stroke-width="0.9" stroke-linejoin="round">1</text>
<text transform="scale(1.0950 1)" x="845.77" y="1260.2" font-size="86.3" stroke="#000" stroke-width="0.9" stroke-linejoin="round">2</text>
<text transform="scale(1.0950 1)" x="1151.32" y="1260.4" font-size="86.3" stroke="#000" stroke-width="0.9" stroke-linejoin="round">3</text>
<text transform="scale(1.0950 1)" x="1454.88" y="1260" font-size="86.3" stroke="#000" stroke-width="0.9" stroke-linejoin="round">4</text>
<text transform="scale(1.1000 1)" x="826.13 850.41 876.22" y="1366" font-size="98.8" stroke="#000" stroke-width="0.9" stroke-linejoin="round">I/I</text>
<text transform="scale(1.0900 1)" x="910.23" y="1406.5" font-size="73.6" stroke="#000" stroke-width="0.9" stroke-linejoin="round">c</text>
<text transform="scale(1.1000 1)" x="56.21" y="528.8" font-size="82" stroke="#000" stroke-width="0.9" stroke-linejoin="round">V</text>
<text x="22.76" y="635.8" font-size="87" stroke="#000" stroke-width="0.9" stroke-linejoin="round">I</text>
<text transform="scale(1.0900 1)" x="42.82" y="669.7" font-size="64" stroke="#000" stroke-width="0.9" stroke-linejoin="round">c</text>
<text transform="scale(1.0800 1)" x="74.02" y="635.8" font-size="87" stroke="#000" stroke-width="0.9" stroke-linejoin="round">R</text>
<text transform="scale(1.0900 1)" x="130.97" y="669.8" font-size="64" stroke="#000" stroke-width="0.9" stroke-linejoin="round">n</text>
<rect x="15.9" y="541.1" width="115.1" height="6" rx="1.2" fill="#000"/>
<rect x="398.5" y="128.6" width="29.8" height="29.8" fill="#fff" stroke="#000000" stroke-width="5.0" stroke-linejoin="miter"/>
<circle cx="413.1" cy="217.8" r="17" fill="#fff" stroke="#ff0000" stroke-width="6"/>
<path d="M411.73 265L415.27 265L437 304.21L437 306.9L390 306.9L390 304.21Z" fill="#00ff00"/><path d="M413.5 274.19L428.31 300.9L398.69 300.9Z" fill="#fff"/>
<path d="M412 341L414 341L438 365L438 367L414 391L412 391L388 367L388 365Z" fill="#0000ff"/><path d="M413 348.6L430.4 366L413 383.4L395.6 366Z" fill="#fff"/>
<path d="M411.94 416.79L414.86 416.79L419.69 431.64L435.3 431.64L436.2 434.42L423.57 443.6L428.4 458.45L426.03 460.17L413.4 450.99L400.77 460.17L398.4 458.45L403.23 443.6L390.6 434.42L391.5 431.64L407.11 431.64Z" fill="#ff00ff"/><path d="M413.4 430.9L415.51 437.39L422.34 437.39L416.81 441.4L418.92 447.9L413.4 443.88L407.88 447.9L409.99 441.4L404.46 437.39L411.29 437.39Z" fill="#fff"/>
</svg></body></html>
